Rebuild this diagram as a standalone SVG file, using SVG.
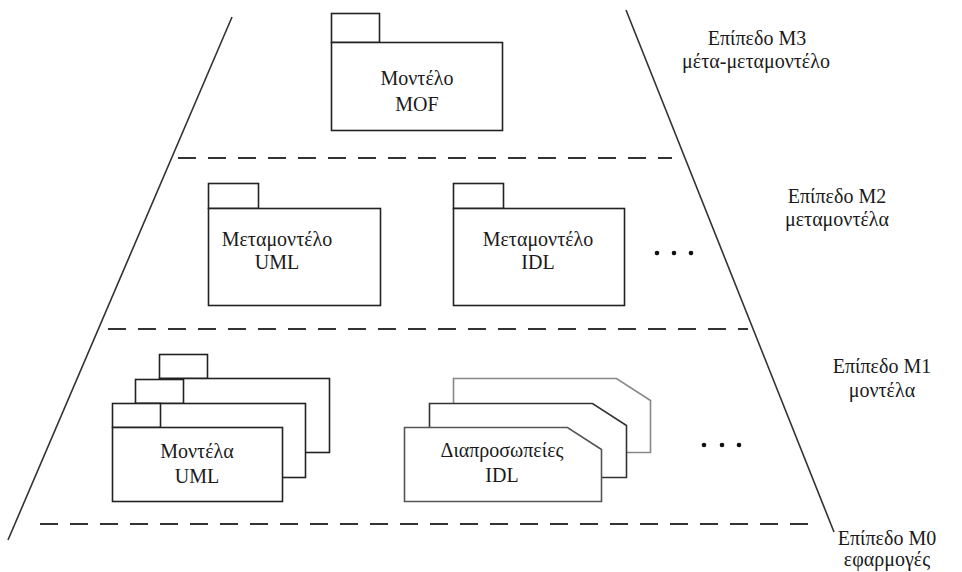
<svg xmlns="http://www.w3.org/2000/svg" width="962" height="572" viewBox="0 0 962 572">
  <style>
    .t { font-family: "Liberation Serif", "DejaVu Serif", serif; font-size: 20px; fill: #1a1a1a; text-anchor: middle; }
    .pkg { fill: #fff; stroke: #222; stroke-width: 1.6; }
    .edge { fill: none; stroke: #333; stroke-width: 1.6; }
    .level { fill: none; stroke: #333; stroke-width: 2; stroke-dasharray: 18 12; }
    .dot { fill: #111; }
  </style>
  <defs>
    <!-- UML package: tab + body, origin at body top-left -->
    <g id="package">
      <rect class="pkg" x="0" y="-24" width="48" height="24"/>
      <rect class="pkg" x="0" y="0" width="170" height="74"/>
    </g>
    <!-- IDL interface card: body with a chamfered top-right corner -->
    <path id="card" d="M0,74 L0,0 L163,0 L197,22 L197,74 Z"/>
  </defs>

  <!-- pyramid sides and level separators -->
  <g id="connectors">
    <line class="edge" x1="232" y1="17" x2="8" y2="540"/>
    <line class="edge" x1="626" y1="10" x2="834" y2="532"/>
    <line class="level" x1="178" y1="158" x2="672" y2="158"/>
    <line class="level" x1="108" y1="329" x2="748" y2="329"/>
    <line class="level" x1="40" y1="524" x2="820" y2="524"/>
  </g>

  <!-- M3 -->
  <g id="mof">
    <rect class="pkg" x="331.5" y="13.5" width="48" height="29"/>
    <rect class="pkg" x="331.5" y="42.5" width="171" height="88"/>
    <text class="t" x="417" y="85">Μοντέλο</text>
    <text class="t" x="417" y="111">MOF</text>
  </g>

  <!-- M2 -->
  <g id="meta-uml">
    <rect class="pkg" x="208.5" y="183.5" width="50" height="25"/>
    <rect class="pkg" x="208.5" y="208.5" width="172" height="97"/>
    <text class="t" x="277" y="246">Μεταμοντέλο</text>
    <text class="t" x="277" y="269">UML</text>
  </g>
  <g id="meta-idl">
    <rect class="pkg" x="453.5" y="183.5" width="50" height="25"/>
    <rect class="pkg" x="453.5" y="208.5" width="171" height="97"/>
    <text class="t" x="538" y="246">Μεταμοντέλο</text>
    <text class="t" x="538" y="269">IDL</text>
  </g>
  <g id="more-m2">
    <circle class="dot" cx="657" cy="253" r="2.3"/>
    <circle class="dot" cx="674" cy="253" r="2.3"/>
    <circle class="dot" cx="691" cy="253" r="2.3"/>
  </g>

  <!-- M1 -->
  <g id="models-uml">
    <use href="#package" x="159.5" y="378.5"/>
    <use href="#package" x="135.5" y="403.5"/>
    <use href="#package" x="112.5" y="427.5"/>
    <text class="t" x="197" y="458">Μοντέλα</text>
    <text class="t" x="197" y="483">UML</text>
  </g>
  <g id="interfaces-idl">
    <use href="#card" x="453.5" y="378.5" fill="#fff" stroke="#888" stroke-width="1.6"/>
    <use href="#card" x="429.5" y="403.5" fill="#fff" stroke="#333" stroke-width="1.6"/>
    <use href="#card" x="404.5" y="427.5" fill="#fff" stroke="#555" stroke-width="1.6"/>
    <text class="t" x="502" y="457">Διαπροσωπείες</text>
    <text class="t" x="502" y="482">IDL</text>
  </g>
  <g id="more-m1">
    <circle class="dot" cx="704" cy="445" r="2.3"/>
    <circle class="dot" cx="722" cy="445" r="2.3"/>
    <circle class="dot" cx="739" cy="445" r="2.3"/>
  </g>

  <!-- level labels -->
  <g id="label-m3">
    <text class="t" x="757" y="45">Επίπεδο Μ3</text>
    <text class="t" x="756" y="68">μέτα-μεταμοντέλο</text>
  </g>
  <g id="label-m2">
    <text class="t" x="837" y="203">Επίπεδο Μ2</text>
    <text class="t" x="837" y="226">μεταμοντέλα</text>
  </g>
  <g id="label-m1">
    <text class="t" x="882" y="373">Επίπεδο Μ1</text>
    <text class="t" x="882" y="397">μοντέλα</text>
  </g>
  <g id="label-m0">
    <text class="t" x="887" y="545">Επίπεδο Μ0</text>
    <text class="t" x="887" y="566">εφαρμογές</text>
  </g>
</svg>
